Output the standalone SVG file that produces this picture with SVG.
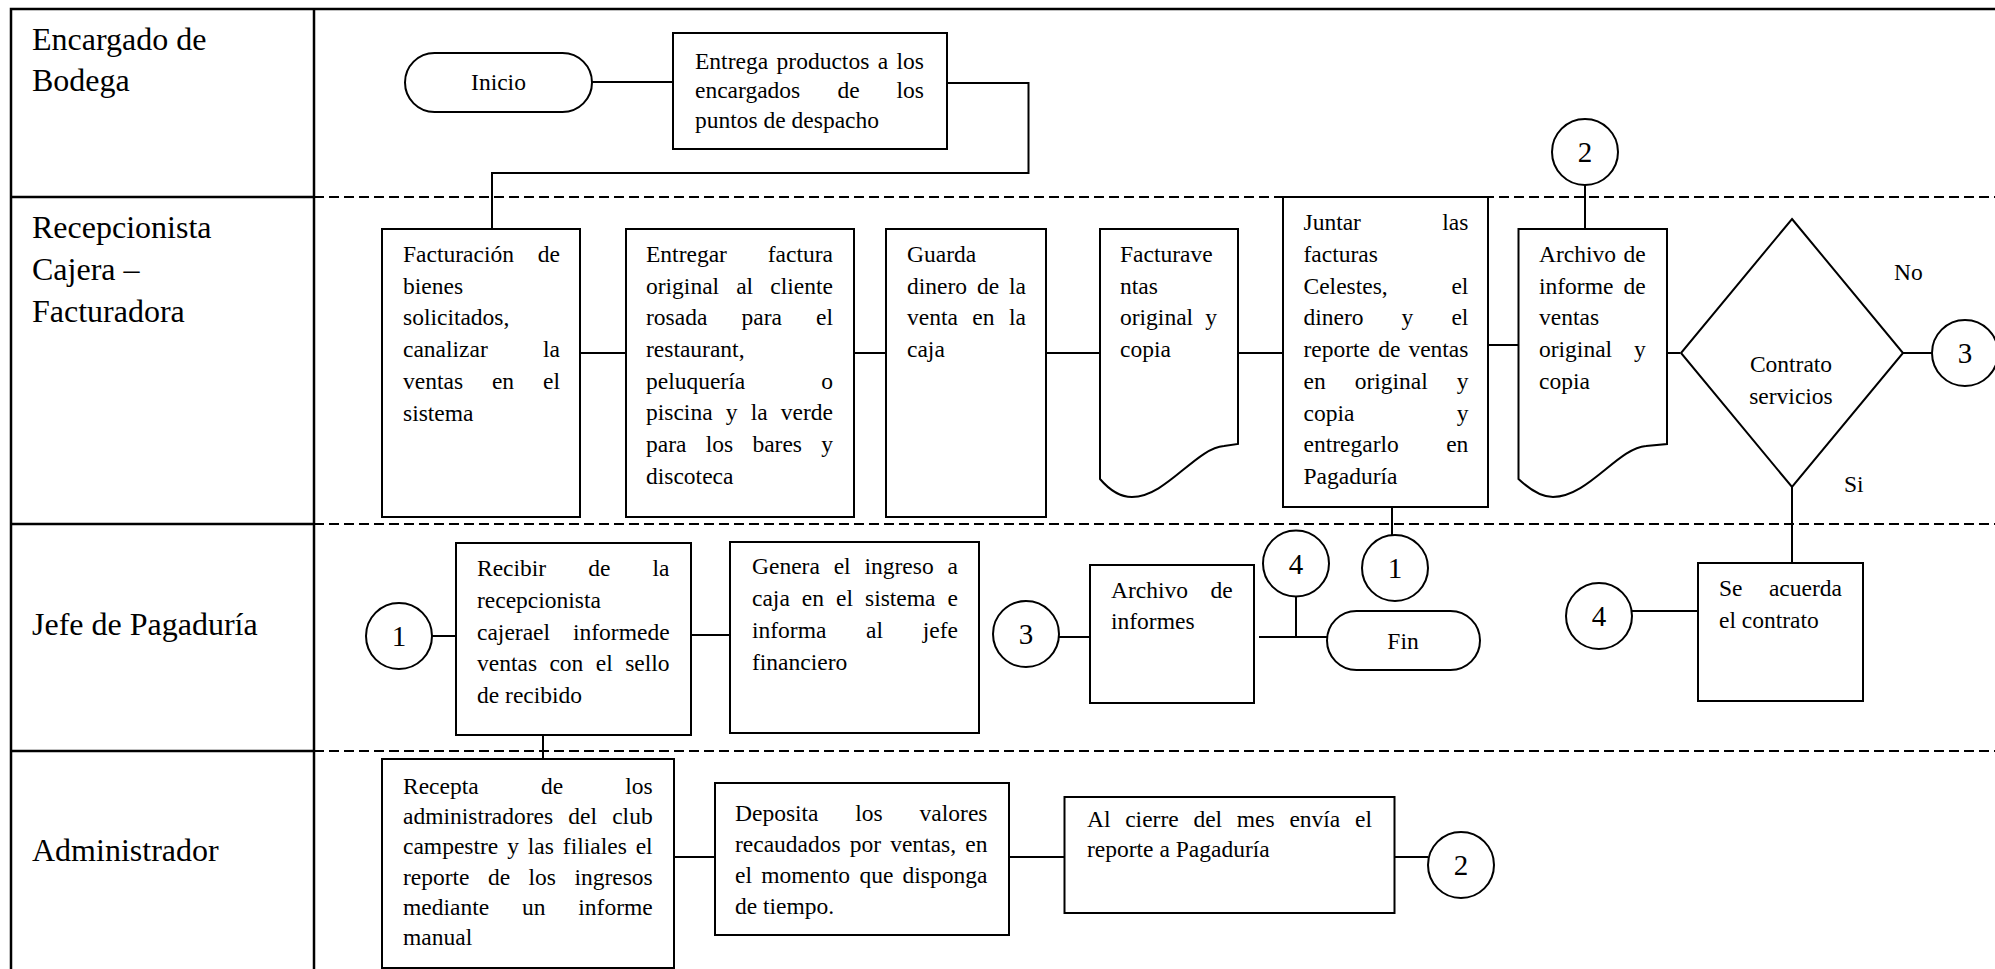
<svg xmlns="http://www.w3.org/2000/svg" width="1995" height="969" viewBox="0 0 1995 969">
<style>
.bg{fill:#fff}
.frame{fill:none;stroke:#000;stroke-width:2.5}
.sep{fill:none;stroke:#000;stroke-width:2;stroke-dasharray:10 5}
.box{fill:#fff;stroke:#000;stroke-width:2}
.conn{fill:none;stroke:#000;stroke-width:2}
text{font-family:"Liberation Serif","Times New Roman",serif;fill:#000}
.t{font-size:23.5px}
.lbl{font-size:32px}
.num{font-size:29px;text-anchor:middle}
.mid{text-anchor:middle}
</style>
<rect class="bg" x="0" y="0" width="1995" height="969"/>
<g id="lanes">
<path class="frame" d="M11,969 V9 H1995"/>
<path class="frame" d="M314,9 V969"/>
<path class="frame" d="M11,197 H314 M11,524 H314 M11,751 H314"/>
<path class="sep" d="M314,197 H1995 M314,524 H1995 M314,751 H1995"/>
<text class="lbl" x="32" y="50">Encargado de</text>
<text class="lbl" x="32" y="91">Bodega</text>
<text class="lbl" x="32" y="238">Recepcionista</text>
<text class="lbl" x="32" y="280">Cajera –</text>
<text class="lbl" x="32" y="322">Facturadora</text>
<text class="lbl" x="32" y="635">Jefe de Pagaduría</text>
<text class="lbl" x="32" y="861">Administrador</text>
</g>
<g id="connectors">
<path class="conn" d="M592,82 H673"/>
<path class="conn" d="M947,83 H1028.5 V173 H492 V229"/>
<path class="conn" d="M580,353 H626"/>
<path class="conn" d="M854,353 H886"/>
<path class="conn" d="M1046,353 H1100"/>
<path class="conn" d="M1238,353 H1283"/>
<path class="conn" d="M1488,345 H1518.5"/>
<path class="conn" d="M1585,185 V229"/>
<path class="conn" d="M1667,353 H1680"/>
<path class="conn" d="M1903,353 H1932"/>
<path class="conn" d="M1792,478 V563"/>
<path class="conn" d="M1392,507 V542"/>
<path class="conn" d="M432,636 H456"/>
<path class="conn" d="M543,735 V759"/>
<path class="conn" d="M691,635 H730"/>
<path class="conn" d="M1059,637 H1090"/>
<path class="conn" d="M1259,637 H1327"/>
<path class="conn" d="M1296,597 V637"/>
<path class="conn" d="M1632,611 H1698"/>
<path class="conn" d="M674,857 H715"/>
<path class="conn" d="M1009,857 H1064.5"/>
<path class="conn" d="M1394.5,857 H1428"/>
</g>
<g id="inicio">
<rect class="box" x="405" y="53" width="187" height="59" rx="29.5"/>
<text class="t mid" x="498.5" y="90">Inicio</text>
</g>
<g id="entrega-productos">
<rect class="box" x="673" y="33" width="274" height="116"/>
<text class="t" y="69"><tspan x="695">Entrega</tspan><tspan x="776.6">productos</tspan><tspan x="877.7">a</tspan><tspan x="896.6">los</tspan></text>
<text class="t" y="98"><tspan x="695">encargados</tspan><tspan x="837.5">de</tspan><tspan x="896.6">los</tspan></text>
<text class="t" x="695" y="127.5">puntos de despacho</text>
</g>
<g id="facturacion">
<rect class="box" x="382" y="229" width="198" height="288"/>
<text class="t" y="262"><tspan x="403">Facturación</tspan><tspan x="537.8">de</tspan></text>
<text class="t" x="403" y="294">bienes</text>
<text class="t" x="403" y="325">solicitados,</text>
<text class="t" y="357"><tspan x="403">canalizar</tspan><tspan x="543">la</tspan></text>
<text class="t" y="389"><tspan x="403">ventas</tspan><tspan x="491.9">en</tspan><tspan x="543">el</tspan></text>
<text class="t" x="403" y="421">sistema</text>
</g>
<g id="entregar-factura">
<rect class="box" x="626" y="229" width="228" height="288"/>
<text class="t" y="262"><tspan x="646">Entregar</tspan><tspan x="767.8">factura</tspan></text>
<text class="t" y="294"><tspan x="646">original</tspan><tspan x="736.2">al</tspan><tspan x="770.3">cliente</tspan></text>
<text class="t" y="325"><tspan x="646">rosada</tspan><tspan x="741.5">para</tspan><tspan x="816">el</tspan></text>
<text class="t" x="646" y="357">restaurant,</text>
<text class="t" y="389"><tspan x="646">peluquería</tspan><tspan x="821.25">o</tspan></text>
<text class="t" y="420"><tspan x="646">piscina</tspan><tspan x="725.8">y</tspan><tspan x="750.7">la</tspan><tspan x="780.8">verde</tspan></text>
<text class="t" y="452"><tspan x="646">para</tspan><tspan x="705.7">los</tspan><tspan x="752.4">bares</tspan><tspan x="821.25">y</tspan></text>
<text class="t" x="646" y="484">discoteca</text>
</g>
<g id="guarda">
<rect class="box" x="886" y="229" width="160" height="288"/>
<text class="t" x="907" y="262">Guarda</text>
<text class="t" y="294"><tspan x="907">dinero</tspan><tspan x="976.9">de</tspan><tspan x="1009">la</tspan></text>
<text class="t" y="325"><tspan x="907">venta</tspan><tspan x="972.35">en</tspan><tspan x="1009">la</tspan></text>
<text class="t" x="907" y="357">caja</text>
</g>
<g id="facturaventas">
<path class="box" d="M1100,229 H1238 V444 L1224,446 C1196,448 1166,497 1132,497 C1118,497 1106,486 1100,479 Z"/>
<text class="t" x="1120" y="262">Facturave</text>
<text class="t" x="1120" y="294">ntas</text>
<text class="t" y="325"><tspan x="1120">original</tspan><tspan x="1205.25">y</tspan></text>
<text class="t" x="1120" y="357">copia</text>
</g>
<g id="juntar">
<rect class="box" x="1283" y="197" width="205" height="310"/>
<text class="t" y="230"><tspan x="1303.5">Juntar</tspan><tspan x="1442.3">las</tspan></text>
<text class="t" x="1303.5" y="261.75">facturas</text>
<text class="t" y="293.5"><tspan x="1303.5">Celestes,</tspan><tspan x="1451.4">el</tspan></text>
<text class="t" y="325.25"><tspan x="1303.5">dinero</tspan><tspan x="1401.6">y</tspan><tspan x="1451.4">el</tspan></text>
<text class="t" y="357"><tspan x="1303.5">reporte</tspan><tspan x="1378.2">de</tspan><tspan x="1408.4">ventas</tspan></text>
<text class="t" y="388.75"><tspan x="1303.5">en</tspan><tspan x="1354.7">original</tspan><tspan x="1456.65">y</tspan></text>
<text class="t" y="420.5"><tspan x="1303.5">copia</tspan><tspan x="1456.65">y</tspan></text>
<text class="t" y="452.25"><tspan x="1303.5">entregarlo</tspan><tspan x="1446.2">en</tspan></text>
<text class="t" x="1303.5" y="484">Pagaduría</text>
</g>
<g id="archivo-informe-ventas">
<path class="box" d="M1518.5,229 H1667 V444 L1646,446 C1618,448 1588,497 1553,497 C1539,497 1526,486 1518.5,479 Z"/>
<text class="t" y="262"><tspan x="1539">Archivo</tspan><tspan x="1623.5">de</tspan></text>
<text class="t" y="294"><tspan x="1539">informe</tspan><tspan x="1623.5">de</tspan></text>
<text class="t" x="1539" y="325">ventas</text>
<text class="t" y="357"><tspan x="1539">original</tspan><tspan x="1633.95">y</tspan></text>
<text class="t" x="1539" y="389">copia</text>
</g>
<g id="contrato-servicios">
<path class="box" d="M1792,219 L1903,353 L1792,487 L1681,353 Z"/>
<text class="t mid" x="1791" y="372">Contrato</text>
<text class="t mid" x="1791" y="404">servicios</text>
</g>
<g id="label-no"><text class="t" x="1894" y="280">No</text></g>
<g id="label-si"><text class="t" x="1844" y="492">Si</text></g>
<g id="conector-3-out">
<circle class="box" cx="1965" cy="353" r="33"/>
<text class="num" x="1965" y="363">3</text>
</g>
<g id="conector-2-in">
<circle class="box" cx="1585" cy="152" r="33"/>
<text class="num" x="1585" y="162">2</text>
</g>
<g id="conector-1-out">
<circle class="box" cx="1395" cy="568" r="33"/>
<text class="num" x="1395" y="578">1</text>
</g>
<g id="conector-1-in">
<circle class="box" cx="399" cy="636" r="33"/>
<text class="num" x="399" y="646">1</text>
</g>
<g id="recibir">
<rect class="box" x="456" y="543" width="235" height="192"/>
<text class="t" y="576"><tspan x="477">Recibir</tspan><tspan x="588.3">de</tspan><tspan x="652.6">la</tspan></text>
<text class="t" x="477" y="608">recepcionista</text>
<text class="t" y="640"><tspan x="477">cajerael</tspan><tspan x="573">informede</tspan></text>
<text class="t" y="671"><tspan x="477">ventas</tspan><tspan x="549.4">con</tspan><tspan x="595.8">el</tspan><tspan x="625.2">sello</tspan></text>
<text class="t" x="477" y="703">de recibido</text>
</g>
<g id="genera">
<rect class="box" x="730" y="542" width="249" height="191"/>
<text class="t" y="574"><tspan x="752">Genera</tspan><tspan x="833.7">el</tspan><tspan x="864.5">ingreso</tspan><tspan x="947.6">a</tspan></text>
<text class="t" y="606"><tspan x="752">caja</tspan><tspan x="801.8">en</tspan><tspan x="836">el</tspan><tspan x="865">sistema</tspan><tspan x="947.6">e</tspan></text>
<text class="t" y="638"><tspan x="752">informa</tspan><tspan x="866.1">al</tspan><tspan x="922.8">jefe</tspan></text>
<text class="t" x="752" y="670">financiero</text>
</g>
<g id="conector-3-in">
<circle class="box" cx="1026" cy="634" r="33"/>
<text class="num" x="1026" y="644">3</text>
</g>
<g id="archivo-informes">
<rect class="box" x="1090" y="565" width="164" height="138"/>
<text class="t" y="598"><tspan x="1111">Archivo</tspan><tspan x="1210.4">de</tspan></text>
<text class="t" x="1111" y="629">informes</text>
</g>
<g id="conector-4-out">
<circle class="box" cx="1296" cy="563.5" r="33"/>
<text class="num" x="1296" y="573.5">4</text>
</g>
<g id="fin">
<rect class="box" x="1327" y="611" width="153" height="59" rx="29.5"/>
<text class="t mid" x="1403" y="649">Fin</text>
</g>
<g id="conector-4-in">
<circle class="box" cx="1599" cy="616" r="33"/>
<text class="num" x="1599" y="626">4</text>
</g>
<g id="se-acuerda">
<rect class="box" x="1698" y="563" width="165" height="138"/>
<text class="t" y="596"><tspan x="1719">Se</tspan><tspan x="1768.9">acuerda</tspan></text>
<text class="t" x="1719" y="628">el contrato</text>
</g>
<g id="recepta">
<rect class="box" x="382" y="759" width="292" height="209"/>
<text class="t" y="794"><tspan x="403">Recepta</tspan><tspan x="540.9">de</tspan><tspan x="625.3">los</tspan></text>
<text class="t" y="824.2"><tspan x="403">administradores</tspan><tspan x="568.3">del</tspan><tspan x="612.2">club</tspan></text>
<text class="t" y="854.4"><tspan x="403">campestre</tspan><tspan x="507.2">y</tspan><tspan x="527.85">las</tspan><tspan x="562.85">filiales</tspan><tspan x="635.7">el</tspan></text>
<text class="t" y="884.6"><tspan x="403">reporte</tspan><tspan x="488">de</tspan><tspan x="528.6">los</tspan><tspan x="574.4">ingresos</tspan></text>
<text class="t" y="914.8"><tspan x="403">mediante</tspan><tspan x="522">un</tspan><tspan x="578.3">informe</tspan></text>
<text class="t" x="403" y="945">manual</text>
</g>
<g id="deposita">
<rect class="box" x="715" y="783" width="294" height="152"/>
<text class="t" y="821"><tspan x="735">Deposita</tspan><tspan x="855.35">los</tspan><tspan x="919.6">valores</tspan></text>
<text class="t" y="852"><tspan x="735">recaudados</tspan><tspan x="849.8">por</tspan><tspan x="890.2">ventas,</tspan><tspan x="965.3">en</tspan></text>
<text class="t" y="883"><tspan x="735">el</tspan><tspan x="761.3">momento</tspan><tspan x="859.4">que</tspan><tspan x="902.6">disponga</tspan></text>
<text class="t" x="735" y="914">de tiempo.</text>
</g>
<g id="al-cierre">
<rect class="box" x="1064.5" y="797" width="330" height="116"/>
<text class="t" y="827"><tspan x="1087">Al</tspan><tspan x="1125.2">cierre</tspan><tspan x="1193.4">del</tspan><tspan x="1236.8">mes</tspan><tspan x="1289.4">envía</tspan><tspan x="1355">el</tspan></text>
<text class="t" x="1087" y="857">reporte a Pagaduría</text>
</g>
<g id="conector-2-out">
<circle class="box" cx="1461" cy="865" r="33"/>
<text class="num" x="1461" y="875">2</text>
</g>
</svg>
